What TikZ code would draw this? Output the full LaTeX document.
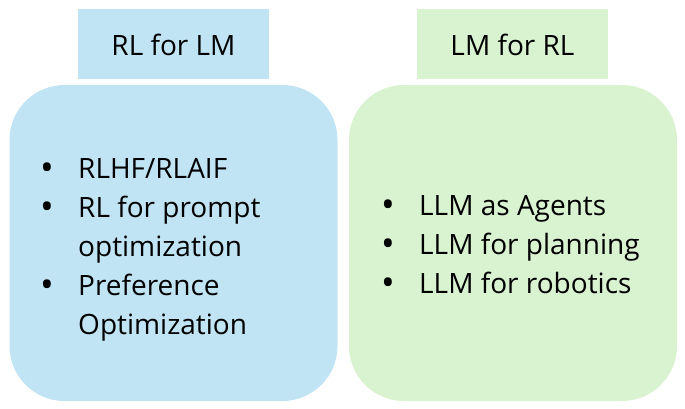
\documentclass[tikz,border=0pt]{standalone}
\usepackage{fontspec}
\setmainfont{Open Sans}
\usepackage{array}
\definecolor{lightblue}{RGB}{193, 228, 245}
\definecolor{lightgreen}{RGB}{217, 242, 208}
\tikzset{
    title/.style={minimum width=191pt, minimum height=70pt, inner sep=0pt},
    panel/.style={rounded corners=55pt, minimum width=328pt,
        minimum height=316pt, inner sep=0pt},
    items/.style={anchor=north west, inner sep=0pt, align=left}
}
\newcommand{\itemlist}[1]{{\fontsize{28pt}{39pt}\selectfont
    \begin{tabular}{@{}p{38pt}@{}l@{}}#1\end{tabular}}}
\newcommand{\bul}{\raisebox{-2pt}{\scalebox{1.3}{\textbullet}}}

\begin{document}
\begin{tikzpicture}[x=1pt, y=-1pt]
    \useasboundingbox (0, 0) rectangle (685, 409);
    \node[title, fill=lightblue] (rl-lm) at (173.5, 44.5)
        {\fontsize{28pt}{32pt}\selectfont RL for LM};
    \node[title, fill=lightgreen] (lm-rl) at (512.5, 44.5)
        {\fontsize{28pt}{32pt}\selectfont LM for RL};
    \node[panel, fill=lightblue] (left-panel) at (173.5, 243) {};
    \node[panel, fill=lightgreen] (right-panel) at (513, 243) {};

    \node[items] (left-items) at (40, 151) {\itemlist{%
        \bul & RLHF/RLAIF\\
        \bul & RL for prompt\\
        & optimization\\
        \bul & Preference\\
        & Optimization}};
    \node[items] (right-items) at (381, 188) {\itemlist{%
        \bul & LLM as Agents\\
        \bul & LLM for planning\\
        \bul & LLM for robotics}};
\end{tikzpicture}
\end{document}
